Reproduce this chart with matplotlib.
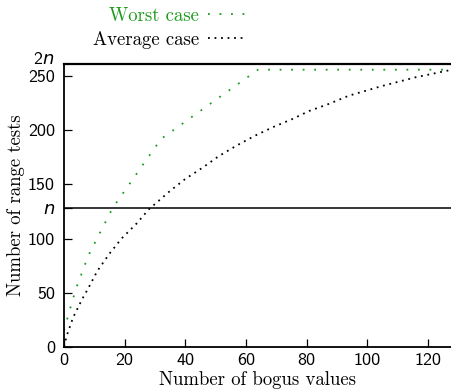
import matplotlib
matplotlib.use("Agg")
import matplotlib.pyplot as plt

# Données
bogus_worst = [0, 1, 2, 4, 8, 16, 32, 64, 128]
tests_worst = [15, 25, 35, 54, 84, 128, 192, 256, 256]

bogus_avg = [0, 1, 3, 6, 8, 11, 15, 19, 24, 28, 35, 40, 46, 51, 57, 63, 69,
             75, 81, 87, 94, 105, 116, 128]
tests_avg = [0, 11, 27, 44, 54, 70, 86, 100, 114, 127, 144, 155, 166, 176, 186,
             195, 203, 210, 218, 224, 232, 241, 249, 256]

x_ticks = [0, 20, 40, 60, 80, 100, 120]
y_ticks = [0, 50, 100, 128, 150, 200, 250]
y_tick_labels = ['0', '50', '100', '$n$', '150', '200', '250']
n = 128

plt.rcParams['mathtext.fontset'] = 'custom'
plt.rcParams['mathtext.rm'] = 'cmss10'
plt.rcParams['mathtext.it'] = 'DejaVu Sans:italic'
plt.rcParams['axes.formatter.use_mathtext'] = True
plt.rcParams['lines.scale_dashes'] = False

green = '#1a9c1a'

fig = plt.figure(figsize=(4.52, 3.9), dpi=100)
ax = fig.add_axes([64 / 452, 1 - 346.7 / 390, 388 / 452, (346.7 - 64.3) / 390])

ax.axhline(n, color='black', lw=1.1)
ax.plot(bogus_worst, tests_worst, color=green, lw=1.3, dashes=(1.3, 7.0),
        label='Worst case')
ax.plot(bogus_avg, tests_avg, color='black', lw=1.3, dashes=(1.3, 3.4),
        label='Average case')

ax.set_xlim(0, 128)
ax.set_ylim(0, 261)
ax.set_xticks(x_ticks)
ax.set_xticklabels([str(v) for v in x_ticks], family='cmss10', fontsize=13)
ax.set_yticks(y_ticks)
ax.set_yticklabels(y_tick_labels, family='cmss10', fontsize=13)
ax.tick_params(axis='x', direction='in', length=5.5, width=0.9, pad=4.5)
ax.tick_params(axis='y', direction='in', length=5.5, width=0.9, pad=6.5)

ax.spines['right'].set_visible(False)
ax.spines['top'].set_linewidth(1.6)
ax.spines['left'].set_linewidth(1.3)
ax.spines['bottom'].set_linewidth(1.3)

ax.text(-0.025, 1.02, '$2n$', transform=ax.transAxes, ha='right', va='center',
        fontsize=13)

ax.set_xlabel('Number of bogus values', family='cmr10', fontsize=13.5, labelpad=2.5)
ax.set_ylabel('Number of range tests', family='cmr10', fontsize=13.5, labelpad=2)

leg = fig.legend(loc='upper right', bbox_to_anchor=(247 / 452, 1 - 7 / 390),
                 frameon=False, markerfirst=False, borderpad=0, borderaxespad=0,
                 handlelength=2.1, handletextpad=0.45, labelspacing=0.32,
                 prop={'family': 'cmr10', 'size': 13.5})
leg.get_texts()[0].set_color(green)

fig.savefig('out.png', dpi=100)
